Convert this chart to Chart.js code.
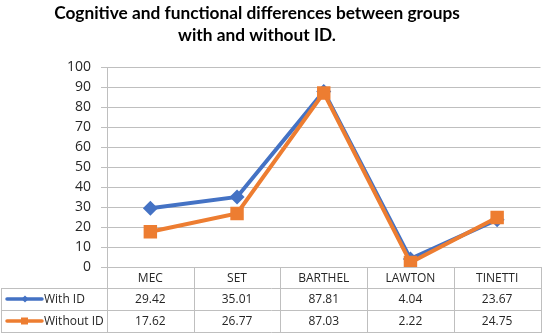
<!DOCTYPE html>
<html>
<head>
<meta charset="utf-8">
<script src="https://cdn.jsdelivr.net/npm/chart.js@4"></script>
<style>
  html, body { margin: 0; padding: 0; background: #ffffff; }
  #wrap { width: 550px; height: 335px; position: relative; }
</style>
</head>
<body>
<div id="wrap"><canvas id="c"></canvas></div>
<script>
const titleLines = ['Cognitive and functional differences between groups', 'with and without ID.'];
const categories = ['MEC', 'SET', 'BARTHEL', 'LAWTON', 'TINETTI'];
const seriesNames = ['With ID', 'Without ID'];
const withID = [29.42, 35.01, 87.81, 4.04, 23.67];
const withoutID = [17.62, 26.77, 87.03, 2.22, 24.75];
const yTicks = [0, 10, 20, 30, 40, 50, 60, 70, 80, 90, 100];

const BLUE = '#4472C4';
const ORANGE = '#ED7D31';
const GRID = '#BFBFBF';
const TEXT = '#262626';
const FONT = "'Open Sans', 'DejaVu Sans', sans-serif";

const fmt = v => v.toFixed(2);

const tablePlugin = {
  id: 'tablePlugin',
  afterDraw(chart) {
    const ctx = chart.ctx;
    const xs = chart.scales.x;
    const area = chart.chartArea;
    const n = categories.length;
    const step = (area.right - area.left) / n;
    const top = area.bottom;
    const r1 = top + 21, r2 = top + 43, r3 = top + 65;
    ctx.save();
    // title
    ctx.fillStyle = '#000000';
    ctx.font = "bold 17.3px Lato, 'Open Sans', sans-serif";
    ctx.textAlign = 'center';
    ctx.textBaseline = 'middle';
    ctx.fillText(titleLines[0], 257, 13);
    ctx.fillText(titleLines[1], 257, 35);

    // table lines
    ctx.strokeStyle = GRID;
    ctx.lineWidth = 1;
    ctx.beginPath();
    for (let i = 0; i <= n; i++) {
      const x = Math.round(area.left + i * step) + 0.5;
      ctx.moveTo(x, top); ctx.lineTo(x, r3);
    }
    ctx.moveTo(1.5, r1); ctx.lineTo(1.5, r3);
    [r1, r2, r3].forEach(y => { ctx.moveTo(1, y + 0.5); ctx.lineTo(Math.round(area.right) + 1, y + 0.5); });
    ctx.stroke();

    // values
    ctx.fillStyle = TEXT;
    ctx.font = '12px ' + FONT;
    ctx.textAlign = 'center';
    ctx.textBaseline = 'middle';
    for (let i = 0; i < n; i++) {
      const x = xs.getPixelForValue(i);
      ctx.fillText(fmt(withID[i]), x, (r1 + r2) / 2 + 1);
      ctx.fillText(fmt(withoutID[i]), x, (r2 + r3) / 2 + 1);
    }

    // legend keys
    const rows = [{y: (r1 + r2) / 2, c: BLUE, name: seriesNames[0], m: 'diamond'},
                  {y: (r2 + r3) / 2, c: ORANGE, name: seriesNames[1], m: 'square'}];
    rows.forEach(r => {
      ctx.strokeStyle = r.c;
      ctx.lineWidth = 3.5;
      ctx.lineCap = 'round';
      ctx.beginPath(); ctx.moveTo(7, r.y); ctx.lineTo(42, r.y); ctx.stroke();
      ctx.fillStyle = r.c;
      ctx.beginPath();
      if (r.m === 'diamond') {
        ctx.moveTo(25, r.y - 3.5); ctx.lineTo(28.5, r.y); ctx.lineTo(25, r.y + 3.5); ctx.lineTo(21.5, r.y);
      } else {
        ctx.rect(21, r.y - 3.5, 7, 7);
      }
      ctx.fill();
      ctx.fillStyle = TEXT;
      ctx.textAlign = 'left';
      ctx.fillText(r.name, 44, r.y + 1);
    });
    ctx.restore();
  }
};

new Chart(document.getElementById('c'), {
  type: 'line',
  data: {
    labels: categories,
    datasets: [
      {
        label: seriesNames[0], data: withID, borderColor: BLUE, backgroundColor: BLUE,
        borderWidth: 4, pointStyle: 'rectRot', pointRadius: 7.5, pointHoverRadius: 7.5,
        pointBorderWidth: 0, order: 1, tension: 0
      },
      {
        label: seriesNames[1], data: withoutID, borderColor: ORANGE, backgroundColor: ORANGE,
        borderWidth: 4, pointStyle: 'rect', pointRadius: 9.5, pointHoverRadius: 9.5,
        pointBorderWidth: 0, order: 0, tension: 0
      }
    ]
  },
  options: {
    responsive: true,
    maintainAspectRatio: false,
    animation: false,
    layout: { padding: { top: 67, right: 4, left: 0, bottom: 0 } },
    plugins: { legend: { display: false }, title: { display: false }, tooltip: { enabled: false } },
    scales: {
      x: {
        type: 'category',
        offset: true,
        grid: { display: true, drawOnChartArea: false, drawTicks: false, offset: true },
        border: { display: true, color: GRID },
        ticks: { color: TEXT, font: { family: FONT, size: 12 }, padding: 4, maxRotation: 0, autoSkip: false },
        afterFit: s => { s.height = 68; }
      },
      y: {
        min: 0, max: 100,
        afterBuildTicks: s => { s.ticks = yTicks.map(v => ({ value: v })); },
        grid: { color: GRID, lineWidth: 1, tickLength: 6, drawTicks: true },
        border: { display: true, color: GRID },
        ticks: { color: TEXT, font: { family: FONT, size: 14 }, padding: 10 },
        afterFit: s => { s.width = 107; }
      }
    }
  },
  plugins: [tablePlugin]
});
</script>
</body>
</html>
